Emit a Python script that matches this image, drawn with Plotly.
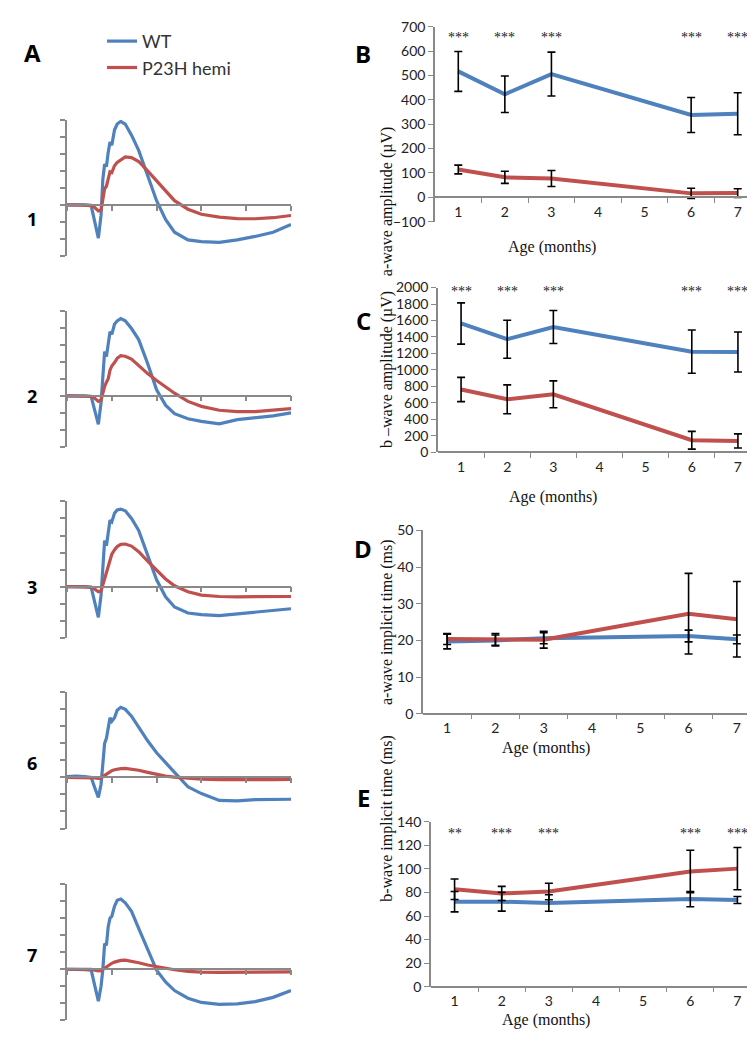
import plotly.graph_objects as go

W, H = 755, 1041
BLUE = '#4F81BD'
RED = '#C0504D'
GREY = '#898989'

# ---- ERG traces (panel A), common time base ----
t_ms = [0, 10, 20, 27, 31, 35, 38, 40, 42, 44, 46, 48, 50, 53, 56, 60, 65, 72, 80, 90,
        100, 110, 120, 135, 150, 170, 190, 210, 230, 250]

wt_1 = [0, 2, 0, -5, -110, -195, -60, 150, 240, 225, 310, 370, 350, 440, 475, 491, 475, 410, 320, 170,
        25, -85, -160, -205, -215, -220, -205, -185, -160, -115]
p23h_1 = [0, 0, 0, -3, -15, -35, -30, 40, 95, 110, 150, 195, 190, 230, 250, 265, 282, 278, 255, 200,
          140, 80, 25, -25, -55, -72, -80, -81, -75, -62]

wt_2 = [0, 0, 0, -5, -90, -168, -40, 130, 260, 230, 320, 376, 360, 420, 440, 453, 440, 395, 330, 190,
        35, -55, -105, -135, -150, -165, -140, -128, -118, -100]
p23h_2 = [0, 0, 0, -3, -15, -33, -25, 20, 55, 80, 100, 150, 175, 195, 220, 235, 232, 215, 175, 130,
          90, 50, 15, -33, -62, -85, -93, -93, -85, -75]

wt_3 = [0, 0, 0, -5, -100, -180, -50, 140, 270, 240, 330, 390, 380, 430, 450, 455, 445, 400, 330, 190,
        40, -60, -120, -155, -165, -170, -160, -150, -140, -130]
p23h_3 = [0, 0, 0, -3, -15, -30, -25, 10, 50, 80, 120, 160, 190, 215, 235, 248, 250, 238, 205, 150,
          95, 45, 5, -30, -50, -58, -60, -60, -60, -58]

wt_6 = [5, 8, 5, 0, -60, -118, -40, 80, 200, 230, 300, 350, 330, 350, 395, 412, 400, 360, 295, 215,
        145, 90, 30, -55, -95, -135, -138, -130, -128, -128]
p23h_6 = [0, 0, 0, 0, -3, -6, -5, 5, 12, 20, 28, 35, 40, 45, 50, 52, 53, 50, 42, 30,
          18, 8, 2, -5, -10, -13, -14, -14, -13, -12]

wt_7 = [0, 0, -2, -5, -100, -188, -100, 0, 150, 140, 250, 300, 310, 370, 405, 412, 390, 340, 240, 120,
        -5, -75, -125, -170, -195, -206, -203, -190, -165, -125]
p23h_7 = [0, 0, 0, 0, -5, -10, -8, 0, 8, 15, 22, 30, 35, 42, 48, 52, 53, 48, 38, 25,
          15, 5, -3, -12, -17, -18, -18, -18, -17, -16]

ages = ['1', '2', '3', '6', '7']
erg_wt = [wt_1, wt_2, wt_3, wt_6, wt_7]
erg_p23h = [p23h_1, p23h_2, p23h_3, p23h_6, p23h_7]

# ---- summary panels B-E ----
months = [1, 2, 3, 6, 7]
month_ticks = [1, 2, 3, 4, 5, 6, 7]

a_amp_wt = [517, 423, 506, 338, 343]
a_amp_wt_err = [82, 75, 90, 72, 86]
a_amp_p23h = [114, 82, 77, 16, 17]
a_amp_p23h_err = [18, 25, 33, 21, 18]
a_amp_sig = ['***', '***', '***', '***', '***']

b_amp_wt = [1564, 1373, 1521, 1222, 1218]
b_amp_wt_err = [250, 230, 200, 262, 243]
b_amp_p23h = [764, 645, 705, 148, 140]
b_amp_p23h_err = [147, 175, 163, 108, 85]
b_amp_sig = ['***', '***', '***', '***', '***']

a_time_wt = [19.7, 20.0, 20.6, 21.2, 20.3]
a_time_wt_err = [2.0, 1.5, 1.5, 1.6, 1.2]
a_time_p23h = [20.4, 20.3, 20.2, 27.3, 25.8]
a_time_p23h_err = [1.5, 1.6, 2.3, 11.0, 10.3]

b_time_wt = [72.2, 72.2, 71.1, 74.4, 73.6]
b_time_wt_err = [8.7, 8.0, 7.0, 6.5, 3.0]
b_time_p23h = [82.8, 79.2, 80.9, 97.9, 100.3]
b_time_p23h_err = [8.7, 6.0, 7.0, 18.0, 18.0]
b_time_sig = ['**', '***', '***', '***', '***']


def px_x(p):
    return p / W


def px_y(p):
    return 1 - p / H


fig = go.Figure()
annotations = []

# ---- panel A: five ERG traces ----
zero_rows = [191, 385, 579, 773, 968]
for i, (age, wt, mut) in enumerate(zip(ages, erg_wt, erg_p23h)):
    n = i + 1
    xa = 'x' if n == 1 else f'x{n}'
    ya = 'y' if n == 1 else f'y{n}'
    z = zero_rows[i]
    fig.add_trace(go.Scatter(x=t_ms, y=wt, mode='lines', name='WT', xaxis=xa, yaxis=ya,
                             line=dict(color=BLUE, width=3.2), showlegend=(n == 1)))
    fig.add_trace(go.Scatter(x=t_ms, y=mut, mode='lines', name='P23H hemi', xaxis=xa, yaxis=ya,
                             line=dict(color=RED, width=3.2), showlegend=(n == 1)))
    xkey = 'xaxis' if n == 1 else f'xaxis{n}'
    ykey = 'yaxis' if n == 1 else f'yaxis{n}'
    fig.layout[xkey] = dict(domain=[px_x(59), px_x(283)], range=[0, 250], anchor='free',
                            position=px_y(z), showline=True, linecolor=GREY, linewidth=1.5,
                            tickvals=[0, 50, 100, 150, 200, 250], ticks='outside', ticklen=5,
                            tickcolor=GREY, tickwidth=1.5, showticklabels=False,
                            showgrid=False, zeroline=False)
    fig.layout[ykey] = dict(domain=[px_y(z + 52), px_y(z - 86.5)], range=[-300, 500], anchor=xa,
                            showline=True, linecolor=GREY, linewidth=1.5,
                            tickvals=list(range(-300, 501, 100)), ticks='outside', ticklen=5,
                            tickcolor=GREY, tickwidth=1.5, showticklabels=False,
                            showgrid=False, zeroline=False)
    annotations.append(dict(x=px_x(17), y=px_y(z), xref='paper', yref='paper', text=f'<b>{age}</b>',
                            showarrow=False, font=dict(size=18, family='Open Sans', color='black')))

# ---- panels B-E ----
panels = [
    dict(wt=a_amp_wt, wte=a_amp_wt_err, mu=a_amp_p23h, mue=a_amp_p23h_err, sig=a_amp_sig,
         rng=[-100, 700], dtick=100, top=10, bot=208, left=427, xpos=183, star=656,
         agex=590, agey=223, lety=18, title='a-wave amplitude (µV)', letter='B'),
    dict(wt=b_amp_wt, wte=b_amp_wt_err, mu=b_amp_p23h, mue=b_amp_p23h_err, sig=b_amp_sig,
         rng=[0, 2000], dtick=200, top=275, bot=442.7, left=430, xpos=442.7, star=1950,
         agex=591, agey=488, lety=290, title='b –wave amplitude (µV)', letter='C'),
    dict(wt=a_time_wt, wte=a_time_wt_err, mu=a_time_p23h, mue=a_time_p23h_err, sig=None,
         rng=[0, 50], dtick=10, top=522, bot=708.3, left=415, xpos=708.3, star=None,
         agex=584, agey=754, lety=540, title='a-wave implicit time (ms)', letter='D'),
    dict(wt=b_time_wt, wte=b_time_wt_err, mu=b_time_p23h, mue=b_time_p23h_err, sig=b_time_sig,
         rng=[0, 140], dtick=20, top=818.3, bot=985.7, left=423, xpos=985.7, star=130,
         agex=584, agey=1031, lety=812, title='b-wave implicit time (ms)', letter='E'),
]

tick_font = dict(size=14, family='Lato', color='#222222')
title_font = dict(size=16, family='Liberation Serif', color='#111111')

for j, p in enumerate(panels):
    n = 6 + j
    xa, ya = f'x{n}', f'y{n}'
    for vals, col in ((p['wt'], BLUE), (p['mu'], RED)):
        fig.add_trace(go.Scatter(x=months, y=vals, mode='lines', xaxis=xa, yaxis=ya,
                                 line=dict(color=col, width=4), showlegend=False))
    for vals, err in ((p['wt'], p['wte']), (p['mu'], p['mue'])):
        fig.add_trace(go.Scatter(x=months, y=vals, mode='markers', xaxis=xa, yaxis=ya,
                                 marker=dict(size=1, color='rgba(0,0,0,0)'), showlegend=False,
                                 error_y=dict(type='data', array=err, color='black',
                                              thickness=1.6, width=4)))
    if p['sig']:
        for m, s in zip(months, p['sig']):
            annotations.append(dict(x=m, y=p['star'], xref=xa, yref=ya, text=s, showarrow=False,
                                    font=dict(size=14, family='Liberation Serif', color='#222222')))
    fig.layout[f'xaxis{n}'] = dict(domain=[px_x(p['left']), px_x(753)], range=[0.5, 7.5],
                                   anchor='free', position=px_y(p['xpos']),
                                   tickvals=month_ticks, ticks='', ticklen=0, ticklabelstandoff=2,
                                   tickfont=tick_font,
                                   minor=dict(tickvals=[k + 0.5 for k in range(1, 8)], ticks='outside',
                                              ticklen=5, tickcolor=GREY, tickwidth=1.2),
                                   showline=True, linecolor=GREY, linewidth=1.5,
                                   showgrid=False, zeroline=False)
    fig.layout[f'yaxis{n}'] = dict(domain=[px_y(p['bot']), px_y(p['top'])], range=p['rng'],
                                   anchor=xa, dtick=p['dtick'], tick0=p['rng'][0],
                                   ticks='outside', ticklen=5, tickcolor=GREY, tickwidth=1.2,
                                   tickfont=tick_font, showline=True, linecolor=GREY, linewidth=1.5,
                                   showgrid=False, zeroline=False)
    mid = (p['top'] + p['bot']) / 2
    annotations.append(dict(x=px_x(379), y=px_y(mid), xref='paper', yref='paper',
                            text=p['title'], textangle=-90, showarrow=False, font=title_font))
    annotations.append(dict(x=px_x(p['agex']), y=px_y(p['agey']), xref='paper', yref='paper',
                            text='Age (months)', showarrow=False, font=title_font))
    annotations.append(dict(x=px_x(355), y=px_y(p['lety']), xref='paper', yref='paper',
                            text=f"<b>{p['letter']}</b>", showarrow=False,
                            font=dict(size=24, family='Open Sans', color='black')))

annotations.append(dict(x=px_x(14), y=px_y(17), xref='paper', yref='paper', text='<b>A</b>',
                        showarrow=False, font=dict(size=24, family='Open Sans', color='black')))

fig.update_layout(
    width=W, height=H, autosize=False,
    margin=dict(l=0, r=0, t=0, b=0),
    paper_bgcolor='white', plot_bgcolor='white',
    annotations=annotations,
    legend=dict(x=px_x(94), y=px_y(6), xanchor='left', yanchor='top',
                font=dict(size=18, family='Lato', color='#333333'),
                bgcolor='rgba(0,0,0,0)', itemwidth=30, tracegroupgap=0),
)

fig.write_html('out.html')
